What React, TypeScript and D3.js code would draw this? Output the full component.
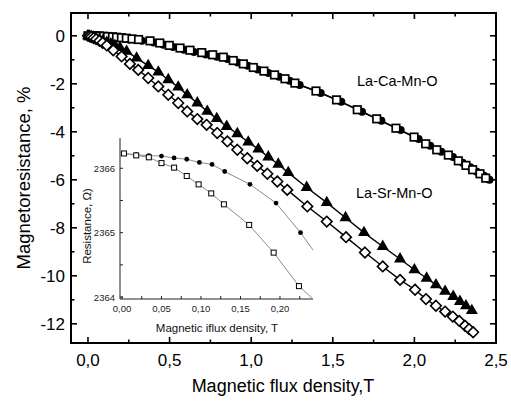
import React from "react";
import * as d3 from "d3";

// ---------- Data ----------
const caSquareX = [0,0.02,0.04,0.055,0.07,0.095,0.12,0.15,0.175,0.205,0.235,0.27,0.31,0.38,0.44,0.498,0.564,0.625,0.697,0.764,0.829,0.89,0.952,1.013,1.078,1.143,1.207,1.268,1.397,1.523,1.65,1.769,1.887,1.998,2.069,2.137,2.208,2.269,2.316,2.357,2.402,2.437];
const caSquareY = [0,0,0,-0.01,-0.01,-0.02,-0.03,-0.04,-0.06,-0.08,-0.10,-0.13,-0.155,-0.21,-0.30,-0.40,-0.51,-0.60,-0.70,-0.79,-0.89,-1.03,-1.17,-1.32,-1.47,-1.63,-1.79,-1.97,-2.30,-2.67,-3.08,-3.46,-3.85,-4.22,-4.50,-4.75,-4.97,-5.21,-5.40,-5.58,-5.75,-5.93];
const caCircleX = [0.01,0.03,0.05,0.066,0.082,0.108,0.134,0.166,0.192,0.223,0.254,0.29,0.331,0.402,0.462,0.521,0.588,0.649,0.722,0.79,0.855,0.917,0.979,1.04,1.106,1.171,1.235,1.297,1.426,1.552,1.679,1.798,1.916,2.026,2.097,2.165,2.236,2.296,2.343,2.383,2.427,2.46];
const caCircleY = [0,-0.01,-0.02,-0.03,-0.04,-0.05,-0.06,-0.08,-0.10,-0.12,-0.15,-0.18,-0.21,-0.28,-0.37,-0.47,-0.58,-0.68,-0.78,-0.87,-0.97,-1.11,-1.25,-1.40,-1.55,-1.71,-1.87,-2.05,-2.38,-2.75,-3.16,-3.54,-3.93,-4.30,-4.58,-4.83,-5.05,-5.29,-5.48,-5.66,-5.83,-6.0];
const srTriX = [0,0.01,0.02,0.035,0.05,0.07,0.09,0.115,0.14,0.165,0.196,0.237,0.298,0.369,0.431,0.492,0.553,0.608,0.67,0.731,0.789,0.85,0.915,0.982,1.044,1.105,1.166,1.227,1.34,1.463,1.578,1.691,1.806,1.912,2.0,2.075,2.132,2.188,2.238,2.279,2.316,2.352];
const srTriY = [0,-0.01,-0.03,-0.06,-0.10,-0.15,-0.21,-0.28,-0.34,-0.40,-0.49,-0.65,-0.93,-1.24,-1.51,-1.83,-2.14,-2.46,-2.80,-3.15,-3.45,-3.78,-4.08,-4.43,-4.72,-5.05,-5.35,-5.70,-6.32,-6.95,-7.58,-8.20,-8.78,-9.30,-9.75,-10.10,-10.38,-10.65,-10.86,-11.07,-11.25,-11.45];
const srDiaX = [0,0.01,0.02,0.035,0.05,0.07,0.09,0.115,0.155,0.206,0.257,0.308,0.369,0.431,0.492,0.553,0.608,0.67,0.727,0.792,0.854,0.915,0.976,1.037,1.099,1.16,1.221,1.344,1.463,1.581,1.697,1.806,1.912,2.004,2.071,2.132,2.188,2.235,2.275,2.31,2.335,2.36];
const srDiaY = [0,-0.02,-0.05,-0.09,-0.14,-0.21,-0.29,-0.40,-0.60,-0.86,-1.17,-1.42,-1.76,-2.11,-2.46,-2.80,-3.15,-3.47,-3.71,-4.05,-4.40,-4.75,-5.10,-5.42,-5.75,-6.07,-6.42,-7.11,-7.74,-8.39,-9.03,-9.61,-10.17,-10.58,-10.97,-11.25,-11.49,-11.70,-11.88,-12.08,-12.22,-12.35];

const mainXTicks = [0, 0.5, 1.0, 1.5, 2.0, 2.5];
const mainYTicks = [0, -2, -4, -6, -8, -10, -12];

// inset
const inCircleX = [0.0025,0.018,0.034,0.05,0.066,0.082,0.098,0.114,0.13,0.162,0.195,0.226];
const inCircleY = [2366.23,2366.21,2366.195,2366.19,2366.16,2366.14,2366.09,2366.06,2365.95,2365.75,2365.46,2365.0];
const inSquareX = [0.0025,0.018,0.034,0.05,0.066,0.082,0.097,0.113,0.129,0.161,0.192,0.224];
const inSquareY = [2366.23,2366.2,2366.17,2366.08,2366.01,2365.88,2365.75,2365.61,2365.44,2365.12,2364.69,2364.17];
const inCircleLineEnd = [0.2418, 2364.73];
const inSquareLineEnd = [0.2418, 2363.97];
const inXTicks = [0, 0.05, 0.1, 0.15, 0.2];
const inYTicks = [2364, 2365, 2366];

const FONT = "'Liberation Sans', Arial, sans-serif";

function zip(xs: number[], ys: number[]): [number, number][] {
  return xs.map((x, i) => [x, ys[i]]);
}

export default function App() {
  const W = 511, H = 405;
  const L = 71, R = 496, T = 13, B = 343;
  const x = d3.scaleLinear().domain([-0.104, 2.5]).range([L, R]);
  const y = d3.scaleLinear().domain([-12.8, 0.95]).range([B, T]);

  const ix = d3.scaleLinear().domain([-0.0025, 0.2418]).range([120, 313]);
  const iy = d3.scaleLinear().domain([2363.97, 2366.47]).range([299, 138]);

  const line = d3.line<[number, number]>().x(d => x(d[0])).y(d => y(d[1]));
  const iline = d3.line<[number, number]>().x(d => ix(d[0])).y(d => iy(d[1]));

  const caSq = zip(caSquareX, caSquareY);
  const caCi = zip(caCircleX, caCircleY);
  const srTr = zip(srTriX, srTriY);
  const srDi = zip(srDiaX, srDiaY);
  const inCi = zip(inCircleX, inCircleY);
  const inSq = zip(inSquareX, inSquareY);

  const fmt1 = (v: number) => d3.format(".1f")(v).replace(".", ",");
  const fmt2 = (v: number) => d3.format(".2f")(v).replace(".", ",");

  const xTicksAll = d3.range(0, 2.5001, 0.25);
  const yTicksAll = d3.range(-12, 0.001, 1);
  const inXTicksAll = d3.range(0, 0.2401, 0.025);
  const inYTicksAll = d3.range(2364, 2366.01, 0.5);

  const sq = 7.5;
  const triPath = d3.symbol().type(d3.symbolTriangle).size(62)();
  const isq = 5;

  return (
    <svg width={W} height={H} style={{ position: "absolute", left: 0, top: 0, background: "#fff" }} fontFamily={FONT}>
      <rect x={0} y={0} width={W} height={H} fill="#fff" />

      {xTicksAll.map((t, i) => {
        const major = Math.abs(t * 2 - Math.round(t * 2)) < 1e-6;
        const len = major ? 6 : 3.5;
        return (
          <g key={"xt" + i} stroke="#000" strokeWidth={1.6}>
            <line x1={x(t)} x2={x(t)} y1={B} y2={B - len} />
            <line x1={x(t)} x2={x(t)} y1={T} y2={T + len} />
          </g>
        );
      })}
      {yTicksAll.map((t, i) => {
        const major = Math.abs(t / 2 - Math.round(t / 2)) < 1e-6;
        const len = major ? 6 : 3.5;
        return (
          <g key={"yt" + i} stroke="#000" strokeWidth={1.6}>
            <line x1={L} x2={L + len} y1={y(t)} y2={y(t)} />
            <line x1={R} x2={R - len} y1={y(t)} y2={y(t)} />
          </g>
        );
      })}

      {mainXTicks.map((t, i) => (
        <text key={"xl" + i} x={x(t)} y={366} fontSize={17} textAnchor="middle" fill="#000">{fmt1(t)}</text>
      ))}
      {mainYTicks.map((t, i) => (
        <text key={"yl" + i} x={65} y={y(t) + 6} fontSize={17} textAnchor="end" fill="#000">{String(t)}</text>
      ))}

      <text x={283} y={392} fontSize={18} textAnchor="middle" fill="#000">Magnetic flux density,T</text>
      <text transform={`translate(30,178) rotate(-90)`} fontSize={18.5} textAnchor="middle" fill="#000">Magnetoresistance, %</text>

      <path d={line(caCi) || ""} fill="none" stroke="#000" strokeWidth={1.4} />
      <path d={line(caSq) || ""} fill="none" stroke="#000" strokeWidth={1.4} />
      {caCi.map((d, i) => (
        <circle key={"cc" + i} cx={x(d[0])} cy={y(d[1])} r={4} fill="#000" />
      ))}
      {caSq.map((d, i) => (
        <rect key={"cs" + i} x={x(d[0]) - sq / 2} y={y(d[1]) - sq / 2} width={sq} height={sq} fill="#fff" stroke="#000" strokeWidth={1.7} />
      ))}

      <path d={line(srTr) || ""} fill="none" stroke="#000" strokeWidth={1.4} />
      <path d={line(srDi) || ""} fill="none" stroke="#000" strokeWidth={1.4} />
      {srTr.map((d, i) => (
        <path key={"st" + i} d={triPath || ""} transform={`translate(${x(d[0])},${y(d[1])})`} fill="#000" />
      ))}
      {srDi.map((d, i) => {
        const cx = x(d[0]), cy = y(d[1]), h = 5.3;
        return (
          <path key={"sd" + i} d={`M${cx},${cy - h}L${cx + h},${cy}L${cx},${cy + h}L${cx - h},${cy}Z`} fill="#fff" stroke="#000" strokeWidth={1.6} />
        );
      })}

      <text x={357} y={86} fontSize={14.5} fill="#000">La-Ca-Mn-O</text>
      <text x={356} y={198} fontSize={14.5} fill="#000">La-Sr-Mn-O</text>

      <rect x={L} y={T} width={R - L} height={B - T} fill="none" stroke="#000" strokeWidth={2} />

      <g>
        <line x1={120} x2={120} y1={138} y2={299} stroke="#222" strokeWidth={1} />
        <line x1={120} x2={313} y1={299} y2={299} stroke="#222" strokeWidth={1} />
        {inXTicksAll.map((t, i) => (
          <line key={"ixt" + i} x1={ix(t)} x2={ix(t)} y1={299} y2={296} stroke="#222" strokeWidth={1} />
        ))}
        {inYTicksAll.map((t, i) => (
          <line key={"iyt" + i} x1={120} x2={123} y1={iy(t)} y2={iy(t)} stroke="#222" strokeWidth={1} />
        ))}
        {inXTicks.map((t, i) => (
          <text key={"ixl" + i} x={ix(t)} y={312} fontSize={9.5} textAnchor="middle" fill="#222">{fmt2(t)}</text>
        ))}
        {inYTicks.map((t, i) => (
          <text key={"iyl" + i} x={115} y={iy(t) + 3.5} fontSize={9.5} textAnchor="end" fill="#222">{String(t)}</text>
        ))}
        <text x={217} y={332} fontSize={11.5} textAnchor="middle" fill="#111">Magnetic iflux density, T</text>
        <text transform={`translate(91,226) rotate(-90)`} fontSize={11.5} textAnchor="middle" fill="#111">Resistance, Ω)</text>

        <path d={iline([...inCi, inCircleLineEnd as [number, number]]) || ""} fill="none" stroke="#8c8c8c" strokeWidth={1} />
        <path d={iline([...inSq, inSquareLineEnd as [number, number]]) || ""} fill="none" stroke="#8c8c8c" strokeWidth={1} />
        {inCi.map((d, i) => (
          <circle key={"ic" + i} cx={ix(d[0])} cy={iy(d[1])} r={2.4} fill="#000" />
        ))}
        {inSq.map((d, i) => (
          <rect key={"is" + i} x={ix(d[0]) - isq / 2} y={iy(d[1]) - isq / 2} width={isq} height={isq} fill="#fff" stroke="#000" strokeWidth={1} />
        ))}
      </g>
    </svg>
  );
}
